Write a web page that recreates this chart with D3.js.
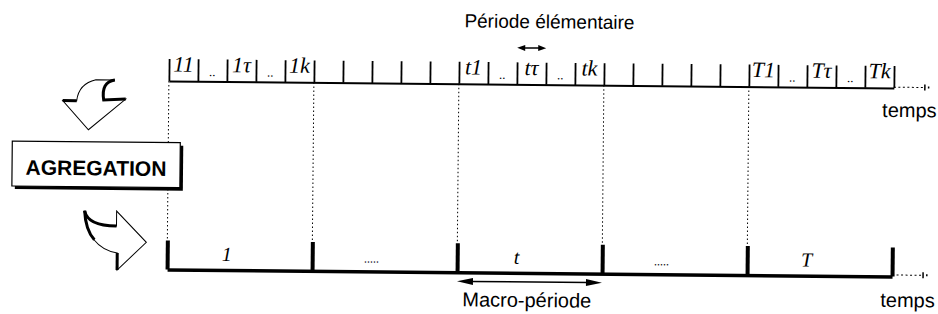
<!DOCTYPE html>
<html>
<head>
<meta charset="utf-8">
<script src="https://cdn.jsdelivr.net/npm/d3@7"></script>
<style>
body { margin:0; background:#fff; }
.sans { font-family: "Liberation Sans", Arial, sans-serif; }
.serif { font-family: "Liberation Serif", "Times New Roman", serif; font-style: italic; }
</style>
</head>
<body>
<svg id="graph"></svg>
<script>
//data
var elemLabels = ["11","..","1τ","..","1k","","","","","","t1","..","tτ","..","tk","","","","","","T1","..","Tτ","..","Tk"]
var macroLabels = ["1",".....","t",".....","T"]
var perMacro = 5
var nElem = elemLabels.length

var svg = d3.select('#graph')
	.attr('width',938)
	.attr('height',314)

//the scan is tilted a little, so turn everything
var g = svg.append('g')
	.attr('transform','rotate(0.55,530,175)')

var topY = 84.5
var botY = 273

//one scale for both axes
var x = d3.scaleLinear().domain([0, nElem]).range([168, 893])
var macroTicks = d3.range(0, nElem + 1, perMacro)

//top axis : elementary periods
var topAxis = g.append('g')
	.attr('transform','translate(0,'+topY+')')
	.call(d3.axisTop(x).tickValues(d3.range(0, nElem + 1)).tickSize(22).tickSizeOuter(0).tickFormat(''))
topAxis.select('.domain').attr('stroke','#000').attr('stroke-width',2)
topAxis.selectAll('.tick line').attr('stroke','#000').attr('stroke-width',1.8)

//bottom axis : macro periods
var botAxis = g.append('g')
	.attr('transform','translate(0,'+botY+')')
	.call(d3.axisTop(x).tickValues(macroTicks).tickSize(29).tickSizeOuter(0).tickFormat(''))
botAxis.select('.domain').attr('stroke','#000').attr('stroke-width',3.5)
botAxis.selectAll('.tick line').attr('stroke','#000').attr('stroke-width',4)

//dotted links between the two axes
g.selectAll('.link')
	.data(macroTicks.slice(0, -1))
	.enter()
	.append('line')
	.attr('class','link')
	.attr('x1',function(d){ return x(d) })
	.attr('x2',function(d){ return x(d) })
	.attr('y1',topY)
	.attr('y2',botY - 29)
	.attr('stroke','#000')
	.attr('stroke-width',1)
	.attr('stroke-dasharray','1.5,2.5')

//dotted continuation of time
;[topY - 0.8, botY - 1.5].forEach(function(y){
	g.append('line')
		.attr('x1',x(nElem)).attr('x2',x(nElem) + 30)
		.attr('y1',y).attr('y2',y)
		.attr('stroke','#000').attr('stroke-dasharray','2,2.5')
	g.append('line')
		.attr('x1',x(nElem) + 31).attr('x2',x(nElem) + 31)
		.attr('y1',y - 3).attr('y2',y + 3)
		.attr('stroke','#000').attr('stroke-width',1.5)
	g.append('rect')
		.attr('x',x(nElem) + 34).attr('y',y - 1)
		.attr('width',1.5).attr('height',2)
})

//labels of elementary periods
g.selectAll('.elem')
	.data(elemLabels)
	.enter()
	.append('text')
	.attr('class','elem serif')
	.attr('x',function(d,i){ return x(i + 0.5) })
	.attr('y',function(d){ return d == '..' ? 79 : 75 })
	.attr('text-anchor','middle')
	.attr('font-size',function(d){ return d == '..' ? 13 : 22 })
	.text(function(d){ return d })

//labels of macro periods
g.selectAll('.macro')
	.data(macroLabels)
	.enter()
	.append('text')
	.attr('class','macro serif')
	.attr('x',function(d,i){ return x((i + 0.5) * perMacro) - 13 })
	.attr('y',264)
	.attr('text-anchor','middle')
	.attr('font-size',function(d){ return d == '.....' ? 12 : 20 })
	.text(function(d){ return d })

//double arrows
function arrow(x1, x2, y, len, half, w) {
	g.append('line')
		.attr('x1',x1 + len - 2).attr('x2',x2 - len + 2)
		.attr('y1',y).attr('y2',y)
		.attr('stroke','#000').attr('stroke-width',w)
	g.append('path')
		.attr('d','M'+x1+','+y+'L'+(x1+len)+','+(y-half)+'L'+(x1+len)+','+(y+half)+'Z')
	g.append('path')
		.attr('d','M'+x2+','+y+'L'+(x2-len)+','+(y-half)+'L'+(x2-len)+','+(y+half)+'Z')
}
arrow(x(12), x(13), 48, 8, 3, 1.5)
arrow(x(2 * perMacro), x(3 * perMacro), 282, 16, 3.5, 1.5)

//texts
g.append('text').attr('class','sans')
	.attr('x',548).attr('y',28)
	.attr('text-anchor','middle').attr('font-size',19)
	.text('Période élémentaire')
g.append('text').attr('class','sans')
	.attr('x',528).attr('y',307)
	.attr('text-anchor','middle').attr('font-size',20)
	.text('Macro-période')
g.append('text').attr('class','sans')
	.attr('x',936).attr('y',113.5)
	.attr('text-anchor','end').attr('font-size',20)
	.text('temps')
g.append('text').attr('class','sans')
	.attr('x',936).attr('y',303.5)
	.attr('text-anchor','end').attr('font-size',20)
	.text('temps')

//AGREGATION box with shadow
g.append('rect')
	.attr('x',15).attr('y',149).attr('width',168).attr('height',45)
	.attr('fill','#000')
g.append('rect')
	.attr('x',12).attr('y',146).attr('width',168).attr('height',45)
	.attr('fill','#fff').attr('stroke','#000').attr('stroke-width',1.2)
g.append('text').attr('class','sans')
	.attr('x',96).attr('y',179.5)
	.attr('text-anchor','middle').attr('font-size',21).attr('font-weight','bold')
	.text('AGREGATION')

//curved arrows
var shapes = [
	{d:'M114,84 Q100,86 103,104 L125,103 L88,134 L62,105 L76,105 Q78,88 95,84 Z',
	 thick:['M114,84 Q100,86 103,104 L125,103','M62,105 L76,105']},
	{d:'M85,215 Q88,230 117,230 L117,215 L147,246 L118,274 L118,257 Q88,252 85,215 Z',
	 thick:['M85,215 Q88,230 117,230','M118,257 L118,274','M85,215 Q86,234 95,244']}
]
shapes.forEach(function(s){
	g.append('path').attr('d',s.d)
		.attr('fill','#fff').attr('stroke','#000').attr('stroke-width',1)
	s.thick.forEach(function(t){
		g.append('path').attr('d',t)
			.attr('fill','none').attr('stroke','#000').attr('stroke-width',3)
	})
})
</script>
</body>
</html>
